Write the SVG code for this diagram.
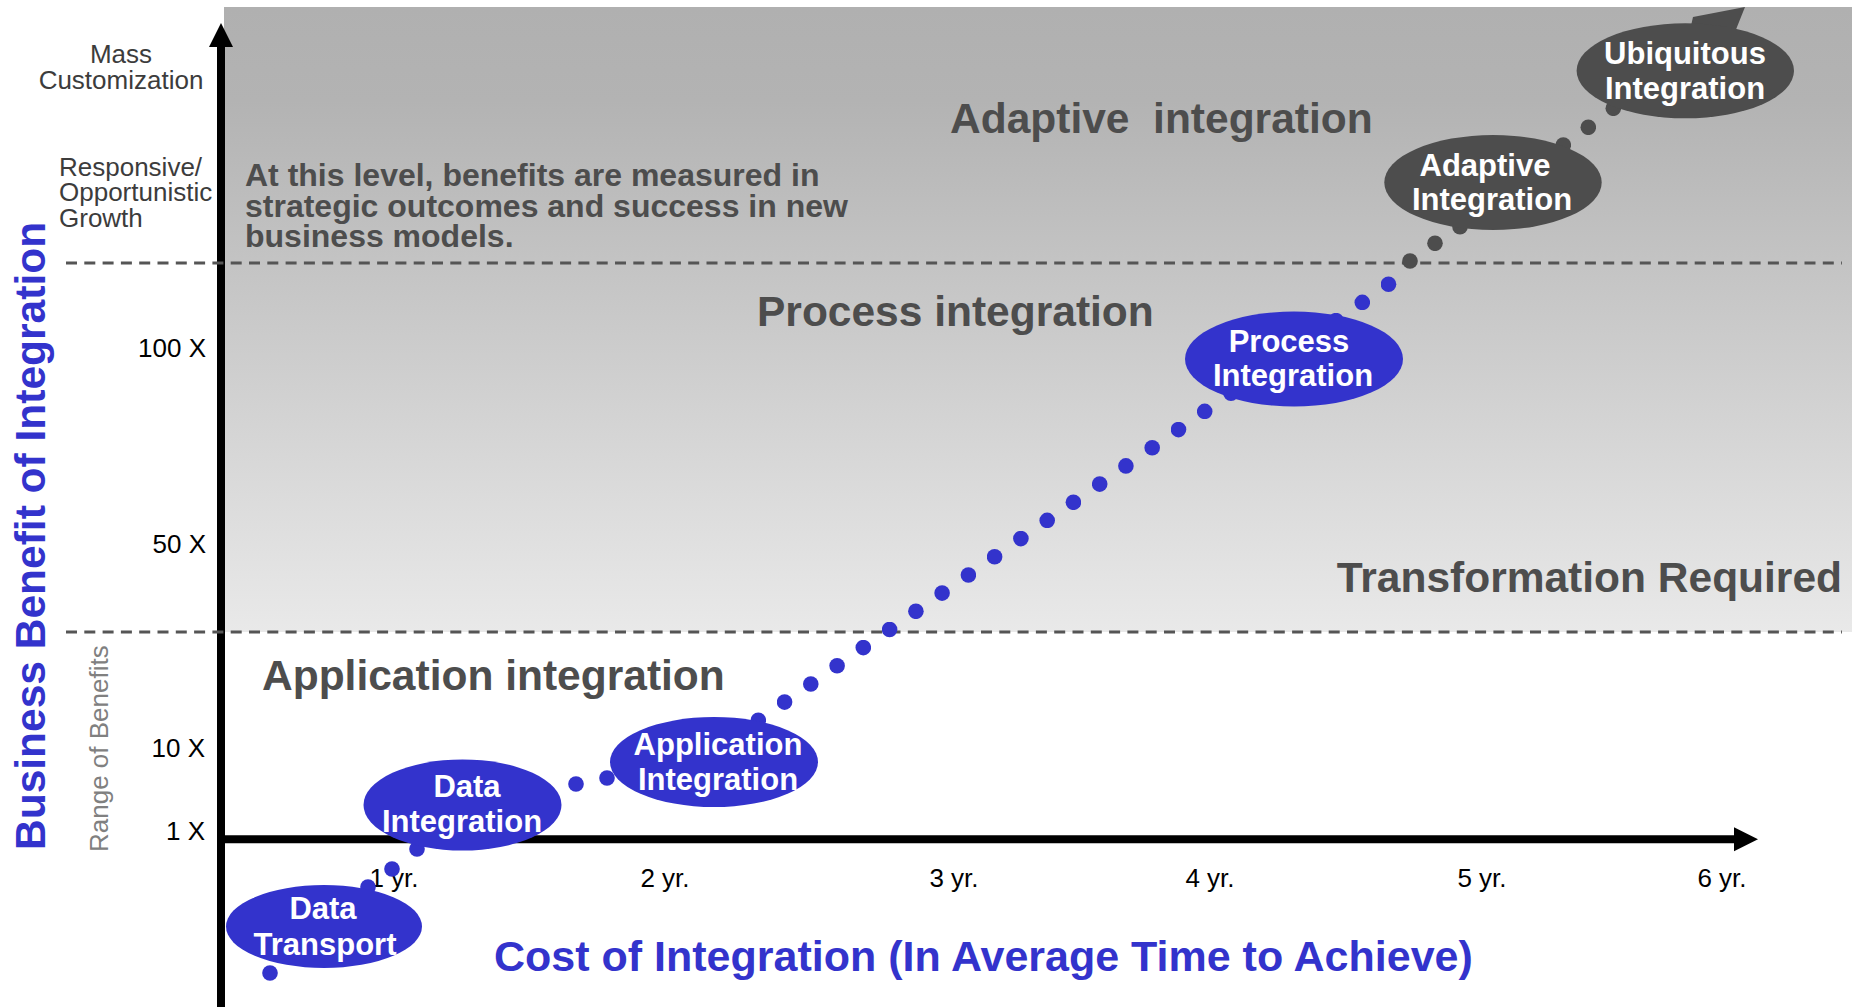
<svg xmlns="http://www.w3.org/2000/svg" width="1852" height="1007" viewBox="0 0 1852 1007">
<defs>
  <style>
    text{font-family:"Liberation Sans",Arial,Helvetica,sans-serif}
    .lvl{font-size:26px;fill:#3c3c3c}
    .tick{font-size:26px;fill:#000}
    .tickx{font-size:26px;fill:#000;text-anchor:middle}
    .zone{font-size:42.5px;font-weight:bold;fill:#4d4d4d}
    .note{font-size:32px;font-weight:bold;fill:#4d4d4d}
    .axisTitle{font-size:42.5px;font-weight:bold;fill:#3333cc}
    .range{font-size:26px;fill:#808080}
    .bt{font-size:31px;font-weight:bold;fill:#ffffff;text-anchor:middle}
    .blue{fill:#3333cc}
    .dark{fill:#4d4d4d}
    .dash{stroke:#555555;stroke-width:2.8;stroke-dasharray:11 7.3;fill:none}
    .axis{stroke:#000000;stroke-width:8;fill:none}
    .dotline{fill:none;stroke:none}
  </style>
  <linearGradient id="bgGrad" x1="0" y1="0" x2="0" y2="1">
    <stop offset="0" stop-color="#b0b0b0"/>
    <stop offset="0.15" stop-color="#b3b3b3"/>
    <stop offset="1" stop-color="#e9e9e9"/>
  </linearGradient>
  <marker id="dotB" markerUnits="userSpaceOnUse" viewBox="0 0 16 16" markerWidth="16" markerHeight="16" refX="8" refY="8" orient="0">
    <circle cx="8" cy="8" r="7.8" fill="#3333cc"/>
  </marker>
  <marker id="dotG" markerUnits="userSpaceOnUse" viewBox="0 0 16 16" markerWidth="16" markerHeight="16" refX="8" refY="8" orient="0">
    <circle cx="8" cy="8" r="7.8" fill="#4d4d4d"/>
  </marker>
</defs>

<rect x="0" y="0" width="1852" height="1007" fill="#ffffff"/>
<rect id="zone-background" x="224" y="7" width="1628" height="625" fill="url(#bgGrad)"/>

<!-- axes -->
<g id="axes">
  <line class="axis" x1="221" y1="45" x2="221" y2="1007"/>
  <polygon points="209,47 221,23 233,47" fill="#000"/>
  <line class="axis" x1="217" y1="839.3" x2="1736" y2="839.3"/>
  <polygon points="1734,827.3 1758,839.3 1734,851.3" fill="#000"/>
</g>

<!-- level dividers -->
<g id="dividers">
  <line class="dash" x1="66" y1="263" x2="1842" y2="263"/>
  <line class="dash" x1="66" y1="632" x2="1842" y2="632"/>
</g>

<!-- y axis labels -->
<g id="y-labels">
  <text class="lvl" x="121" y="63" text-anchor="middle">Mass</text>
  <text class="lvl" x="121" y="89" text-anchor="middle">Customization</text>
  <text class="lvl" x="59" y="176">Responsive/</text>
  <text class="lvl" x="59" y="201">Opportunistic</text>
  <text class="lvl" x="59" y="227">Growth</text>
  <text class="tick" x="206" y="357" text-anchor="end">100 X</text>
  <text class="tick" x="206" y="553" text-anchor="end">50 X</text>
  <text class="tick" x="205" y="757" text-anchor="end">10 X</text>
  <text class="tick" x="205" y="840" text-anchor="end">1 X</text>
  <text class="range" transform="translate(108,852) rotate(-90)">Range of Benefits</text>
  <text class="axisTitle" transform="translate(45,850) rotate(-90)">Business Benefit of Integration</text>
</g>

<!-- x axis labels -->
<g id="x-labels">
  <text class="tickx" x="394" y="887">1 yr.</text>
  <text class="tickx" x="665" y="887">2 yr.</text>
  <text class="tickx" x="954" y="887">3 yr.</text>
  <text class="tickx" x="1210" y="887">4 yr.</text>
  <text class="tickx" x="1482" y="887">5 yr.</text>
  <text class="tickx" x="1722" y="887">6 yr.</text>
  <text class="axisTitle" x="494" y="970.5" style="font-size:43px">Cost of Integration (In Average Time to Achieve)</text>
</g>

<!-- zone titles -->
<g id="zone-labels">
  <text class="zone" x="950" y="133" xml:space="preserve">Adaptive  integration</text>
  <text class="zone" x="757" y="326">Process integration</text>
  <text class="zone" x="262" y="690">Application integration</text>
  <text class="zone" x="1842" y="591.5" text-anchor="end">Transformation Required</text>
  <text class="note" x="245" y="186">At this level, benefits are measured in</text>
  <text class="note" x="245" y="216.5">strategic outcomes and success in new</text>
  <text class="note" x="245" y="247">business models.</text>
</g>

<!-- connectors: dotted progression path -->
<g id="connectors">
  <path class="dotline" marker-start="url(#dotB)" marker-mid="url(#dotB)" marker-end="url(#dotB)"
    d="M270,973 L294,952 L319,930 L343,908 L368,887 L392,869 L417,849 L447,836 L477,822 L507,809 L538,796 L576,784 L607,778 L638,768 L668,757 L698,745 L728,732 L758.3,720.3 L784.6,702.1 L810.8,684 L837.1,665.8 L863.3,647.6 L889.6,629.5 L915.9,611.3 L942.1,593.1 L968.4,575 L994.6,556.8 L1020.9,538.6 L1047.2,520.4 L1073.4,502.3 L1099.7,484.1 L1125.9,465.9 L1152.2,447.8 L1178.5,429.6 L1204.7,411.4 L1231,393.2 L1257.2,375.1 L1283.5,356.9 L1309.8,338.7 L1336,320.6 L1362.3,302.4 L1388.5,284.2"/>
  <path class="dotline" marker-start="url(#dotG)" marker-mid="url(#dotG)" marker-end="url(#dotG)"
    d="M1410,261 L1435,243.3 L1460,226.7 L1486,206 L1512,186 L1537,165 L1563.3,145 L1588.3,127.3 L1613.3,108.3 L1638,90 L1663,72 L1688,54 L1713,36"/>
  <polygon class="dark" points="1690,30 1693,17 1745,7 1735,32"/>
</g>

<!-- nodes -->
<g id="node-data-transport">
  <ellipse class="blue" cx="324" cy="926.5" rx="98" ry="41.5"/>
  <text class="bt" x="323" y="919">Data</text>
  <text class="bt" x="325" y="955">Transport</text>
</g>
<g id="node-data-integration">
  <ellipse class="blue" cx="462.5" cy="805" rx="99" ry="45.5"/>
  <text class="bt" x="467" y="797">Data</text>
  <text class="bt" x="462" y="832">Integration</text>
</g>
<g id="node-application-integration">
  <ellipse class="blue" cx="714" cy="762" rx="104" ry="45"/>
  <text class="bt" x="718" y="755">Application</text>
  <text class="bt" x="718" y="790">Integration</text>
</g>
<g id="node-process-integration">
  <ellipse class="blue" cx="1294" cy="359" rx="109" ry="47.5"/>
  <text class="bt" x="1289" y="352">Process</text>
  <text class="bt" x="1293" y="386">Integration</text>
</g>
<g id="node-adaptive-integration">
  <ellipse class="dark" cx="1493" cy="182.5" rx="108.7" ry="47.5"/>
  <text class="bt" x="1485" y="176">Adaptive</text>
  <text class="bt" x="1492" y="210">Integration</text>
</g>
<g id="node-ubiquitous-integration">
  <ellipse class="dark" cx="1685.3" cy="70.8" rx="108.7" ry="47.5"/>
  <text class="bt" x="1685" y="64">Ubiquitous</text>
  <text class="bt" x="1685" y="99">Integration</text>
</g>
</svg>
